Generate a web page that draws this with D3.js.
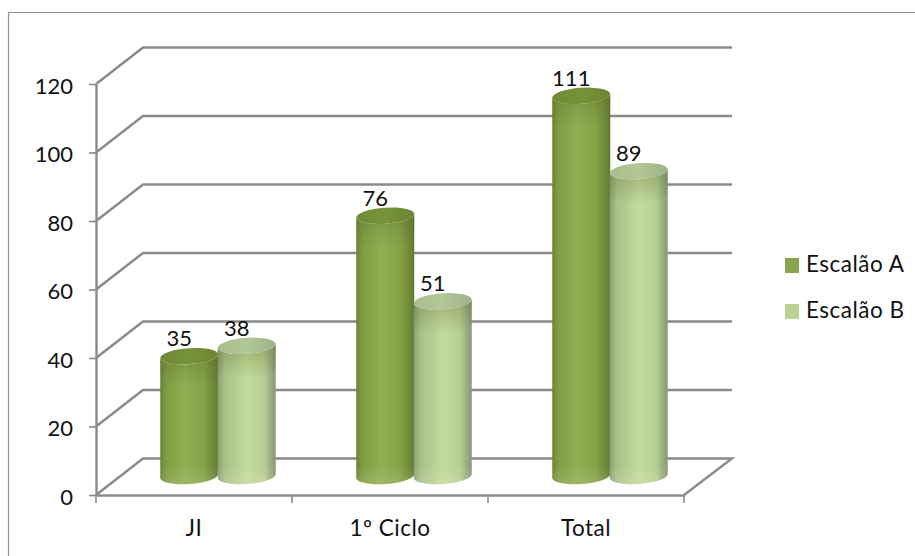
<!DOCTYPE html>
<html>
<head>
<meta charset="utf-8">
<script src="https://cdn.jsdelivr.net/npm/d3@7"></script>
<style>
html, body { margin: 0; padding: 0; background: #fff; }
svg { display: block; }
text { font-family: Lato, "Open Sans", sans-serif; fill: #111; }
</style>
</head>
<body>
<div id="chart"></div>
<script>
var categories = ["JI", "1º Ciclo", "Total"];
var seriesNames = ["Escalão A", "Escalão B"];
var escalaoA = [35, 76, 111];
var escalaoB = [38, 51, 89];
var yTicks = [0, 20, 40, 60, 80, 100, 120];

var width = 915;
var height = 556;
var lineColor = "#8a8a8a";
var fontSize = 22;
var wordSize = 22.5;

// depth of the 3d box, and where the cylinders stand inside it
var depthX = 47, depthY = -36.5;
var barDx = 24, barDy = -19;
var rx = 29, ry = 8, tilt = 2;

var svg = d3.select("#chart")
    .append("svg")
    .attr("width", width)
    .attr("height", height);

var x = d3.scaleBand().domain(categories).range([96, 684]);
var xInner = d3.scaleBand().domain(seriesNames).range([-57.5, 57.5]);
var y = d3.scaleLinear().domain([0, 120]).range([495, 84]);
var color = d3.scaleOrdinal().domain(seriesNames).range(["#8aa64c", "#bbd195"]);

var defs = svg.append("defs");

function gradient(id, stops, vertical) {
    var g = defs.append("linearGradient").attr("id", id);
    if (vertical) {
        g.attr("x2", 0).attr("y2", 1);
    }
    stops.forEach(function(s) {
        g.append("stop")
            .attr("offset", s[0])
            .attr("stop-color", s[1])
            .attr("stop-opacity", s[2] === undefined ? 1 : s[2]);
    });
}
gradient("bodyA", [[0, "#6b8433"], [0.1, "#7f9c42"], [0.42, "#90ae52"], [0.75, "#86a348"], [0.94, "#6c8635"], [1, "#5f7831"]]);
gradient("bodyB", [[0, "#8b9f72"], [0.12, "#a9c088"], [0.5, "#c2da9a"], [0.8, "#b6ce90"], [0.95, "#93a37c"], [1, "#87987c"]]);
gradient("topA", [[0, "#6e8a36"], [0.5, "#779339"], [1, "#6b8534"]]);
gradient("topB", [[0, "#a9bc8f"], [0.5, "#b2c797"], [1, "#9fb187"]]);
gradient("shadeTop", [[0, "#55682a", 0.35], [1, "#55682a", 0]], true);
gradient("lightBottom", [[0, "#ffffff", 0], [0.4, "#ffffff", 0], [1, "#ffffff", 0.14]], true);

defs.append("filter").attr("id", "soft")
    .append("feGaussianBlur").attr("stdDeviation", 0.7);

// frame, only left and top show in the picture
svg.append("path")
    .attr("d", d3.line()([[8.5, height], [8.5, 12.5], [width, 12.5]]))
    .attr("fill", "none")
    .attr("stroke", "#8f8f8f")
    .attr("stroke-width", 1.2);

var grid = svg.append("g").attr("filter", "url(#soft)");

// side wall and back wall lines
yTicks.forEach(function(t) {
    if (t === 0) {
        return;
    }
    grid.append("path")
        .attr("d", d3.line()([
            [x.range()[0], y(t)],
            [x.range()[0] + depthX, y(t) + depthY],
            [x.range()[1] + depthX + 1, y(t) + depthY]
        ]))
        .attr("fill", "none")
        .attr("stroke", lineColor)
        .attr("stroke-width", 2.4);
});

// floor
grid.append("path")
    .attr("d", d3.line()([
        [x.range()[1], y(0)],
        [x.range()[1] + depthX + 1, y(0) + depthY],
        [x.range()[0] + depthX, y(0) + depthY],
        [x.range()[0], y(0)]
    ]))
    .attr("fill", "none")
    .attr("stroke", lineColor)
    .attr("stroke-width", 2.4);

var yAxis = d3.axisLeft(y).tickValues(yTicks).tickSize(7).tickPadding(16).tickSizeOuter(0);
var xAxis = d3.axisBottom(x)
    .tickSize(0)
    .tickPadding(25);

var yg = svg.append("g")
    .attr("transform", "translate(" + x.range()[0] + ",0)")
    .call(yAxis);
var xg = svg.append("g")
    .attr("transform", "translate(0," + y(0) + ")")
    .call(xAxis);

// category boundary ticks
xg.selectAll(".edge")
    .data([0, 1, 2, 3])
    .enter()
    .append("line")
    .attr("class", "edge")
    .attr("x1", function(d) { return x.range()[0] + d * x.bandwidth(); })
    .attr("x2", function(d) { return x.range()[0] + d * x.bandwidth(); })
    .attr("y1", 0)
    .attr("y2", 8)
    .attr("stroke", lineColor)
    .attr("stroke-width", 1.6);

[yg, xg].forEach(function(a) {
    a.select(".domain").attr("stroke", lineColor).attr("stroke-width", 2.4);
    a.selectAll(".tick line").attr("stroke", lineColor).attr("stroke-width", 1.6);
    a.selectAll("text").style("font-family", "Lato, sans-serif").attr("fill", "#111");
});
yg.selectAll("text").style("font-size", fontSize + "px").attr("dy", "0.42em");
xg.selectAll("text").style("font-size", wordSize + "px").style("letter-spacing", "0.5px");

function cylinderPath(cx, yTop, yBottom) {
    return "M" + (cx - rx) + "," + (yTop + tilt) +
        "L" + (cx - rx) + "," + (yBottom + tilt) +
        "A" + rx + "," + ry + ",-4,0,0," + (cx + rx) + "," + (yBottom - tilt) +
        "L" + (cx + rx) + "," + (yTop - tilt) +
        "A" + rx + "," + ry + ",-4,0,1," + (cx - rx) + "," + (yTop + tilt) + "Z";
}

var seriesValues = [escalaoA, escalaoB];
var keys = ["A", "B"];

seriesNames.forEach(function(name, s) {
    var bars = svg.append("g").attr("filter", "url(#soft)");
    var data = categories.map(function(c, i) {
        return {
            cx: x(c) + x.bandwidth() / 2 + xInner(name) + xInner.bandwidth() / 2 + barDx,
            yTop: y(seriesValues[s][i]) + barDy,
            yBottom: y(0) + barDy
        };
    });

    bars.selectAll(".body")
        .data(data)
        .enter()
        .append("path")
        .attr("class", "body")
        .attr("d", function(d) { return cylinderPath(d.cx, d.yTop, d.yBottom); })
        .attr("fill", "url(#body" + keys[s] + ")");

    // soft shade under the lid, lighter band at the foot
    bars.selectAll(".shade")
        .data(data)
        .enter()
        .append("path")
        .attr("class", "shade")
        .attr("d", function(d) { return cylinderPath(d.cx, d.yTop, d.yTop + 24); })
        .attr("fill", "url(#shadeTop)");

    bars.selectAll(".foot")
        .data(data)
        .enter()
        .append("path")
        .attr("class", "foot")
        .attr("d", function(d) { return cylinderPath(d.cx, d.yBottom - 22, d.yBottom); })
        .attr("fill", "url(#lightBottom)");

    bars.selectAll("ellipse")
        .data(data)
        .enter()
        .append("ellipse")
        .attr("rx", rx)
        .attr("ry", ry)
        .attr("transform", function(d) {
            return "translate(" + d.cx + "," + d.yTop + ") rotate(-4)";
        })
        .attr("fill", "url(#top" + keys[s] + ")");
});

// value labels go on top of every cylinder
seriesNames.forEach(function(name, s) {
    svg.append("g").selectAll("text")
        .data(seriesValues[s])
        .enter()
        .append("text")
        .attr("x", function(d, i) {
            return x(categories[i]) + x.bandwidth() / 2 + xInner(name) + xInner.bandwidth() / 2 + barDx - 10;
        })
        .attr("y", function(d) { return y(d) + barDy - 10; })
        .attr("text-anchor", "middle")
        .attr("font-size", fontSize)
        .text(function(d) { return d; });
});

var legend = svg.selectAll(".legend")
    .data(seriesNames)
    .enter()
    .append("g")
    .attr("class", "legend")
    .attr("transform", function(d, i) { return "translate(785," + (258 + i * 46) + ")"; });

legend.append("rect")
    .attr("width", 14)
    .attr("height", 15)
    .attr("fill", function(d) { return color(d); });

legend.append("text")
    .attr("x", 21)
    .attr("y", 14)
    .attr("font-size", wordSize)
    .style("letter-spacing", "0.5px")
    .text(function(d) { return d; });
</script>
</body>
</html>
